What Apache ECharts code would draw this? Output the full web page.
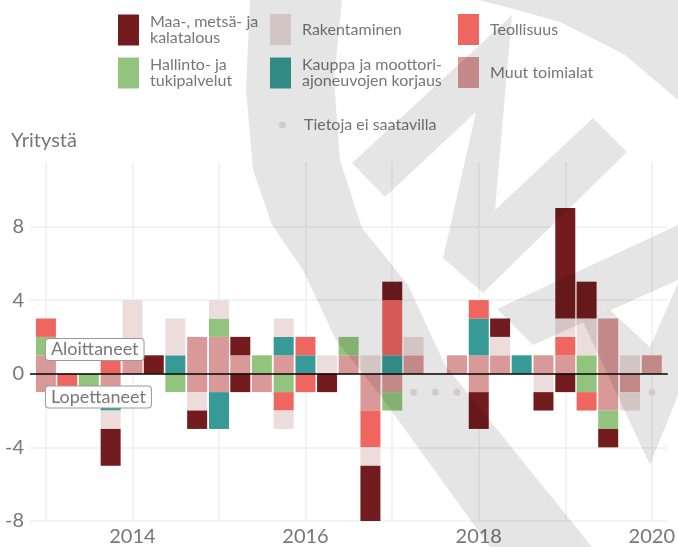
<!DOCTYPE html>
<html>
<head>
<meta charset="utf-8">
<title>Aloittaneet ja lopettaneet yritykset</title>
<script src="https://cdn.jsdelivr.net/npm/echarts@6/dist/echarts.min.js"></script>
<style>
  html, body { margin: 0; padding: 0; background: #fff; }
  #main { width: 678px; height: 547px; }
</style>
</head>
<body>
<div id="main"></div>
<script>
// neljännekset 2013Q1 - 2020Q1
var quarters = ['2013Q1','2013Q2','2013Q3','2013Q4','2014Q1','2014Q2','2014Q3','2014Q4',
                '2015Q1','2015Q2','2015Q3','2015Q4','2016Q1','2016Q2','2016Q3','2016Q4',
                '2017Q1','2017Q2','2017Q3','2017Q4','2018Q1','2018Q2','2018Q3','2018Q4',
                '2019Q1','2019Q2','2019Q3','2019Q4','2020Q1'];

// aloittaneet (positiivinen puoli)
var muutAlo   = [1,0,0,0,1,0,0,2,2,1,0,1,0,0,1,0,0,1,0,1,1,1,0,1,1,0,3,0,1];
var kauppaAlo = [0,0,0,0,0,0,1,0,0,0,0,1,1,0,0,0,1,0,0,0,2,0,1,0,0,0,0,0,0];
var hallAlo   = [1,0,0,0,0,0,0,0,1,0,1,0,0,0,1,0,0,0,0,0,0,0,0,0,0,1,0,0,0];
var teolAlo   = [1,0,0,1,0,0,0,0,0,0,0,0,1,0,0,0,3,0,0,0,1,0,0,0,1,0,0,0,0];
var rakAlo    = [0,0,0,0,3,0,2,0,1,0,0,1,0,1,0,1,0,1,0,0,0,1,0,0,1,2,0,1,0];
var maaAlo    = [0,0,0,0,0,1,0,0,0,1,0,0,0,0,0,0,1,0,0,0,0,1,0,0,6,2,0,0,0];

// lopettaneet (null = tietoja ei saatavilla)
var n = null;
var muutLop   = [1,0,0,1,0,0,0,1,1,0,1,0,0,0,0,2,1,n,n,n,1,0,0,0,0,0,2,1,n];
var kauppaLop = [0,0,0,1,0,0,0,0,2,0,0,0,0,0,0,0,0,n,n,n,0,0,0,0,0,0,0,0,n];
var hallLop   = [0,0,1,0,0,0,1,0,0,0,0,1,0,0,0,0,1,n,n,n,0,0,0,0,0,1,1,0,n];
var teolLop   = [0,1,0,0,0,0,0,0,0,0,0,1,1,0,0,2,0,n,n,n,0,0,0,0,0,1,0,0,n];
var rakLop    = [0,0,0,1,0,0,0,1,0,0,0,1,0,0,0,1,0,n,n,n,0,0,0,1,0,0,0,1,n];
var maaLop    = [0,0,0,2,0,0,0,1,0,1,0,0,0,1,0,3,0,n,n,n,2,0,0,1,1,0,1,0,n];

var yTicks = [-8, -4, 0, 4, 8];
var years = [2013, 2014, 2015, 2016, 2017, 2018, 2019, 2020];

var sectors = [
  { name: 'Muut toimialat', label: 'Muut toimialat', color: '#da9999', alo: muutAlo, lop: muutLop },
  { name: 'Kauppa ja moottoriajoneuvojen korjaus', label: 'Kauppa ja moottori-\najoneuvojen korjaus', color: '#389a96', alo: kauppaAlo, lop: kauppaLop },
  { name: 'Hallinto- ja tukipalvelut', label: 'Hallinto- ja\ntukipalvelut', color: '#93c47d', alo: hallAlo, lop: hallLop },
  { name: 'Teollisuus', label: 'Teollisuus', color: '#ef6661', alo: teolAlo, lop: teolLop },
  { name: 'Rakentaminen', label: 'Rakentaminen', color: '#eddcdc', alo: rakAlo, lop: rakLop },
  { name: 'Maa-, metsä- ja kalatalous', label: 'Maa-, metsä- ja\nkalatalous', color: '#721c1f', alo: maaAlo, lop: maaLop }
];
var missingName = 'Tietoja ei saatavilla';

var DAY = 864e5;
function qt(q) {
  return Date.UTC(Number(q.substr(0, 4)), (Number(q.substr(5, 1)) - 1) * 3, 1);
}
function yt(y) { return Date.UTC(y, 0, 1); }

var fontFam = 'Lato, "Open Sans", sans-serif';
var grayText = '#777';
var barW = 20;
var plotW = 678 - 30 - 7;

var series = [];

// apusarja ruudukolle
series.push({
  type: 'line', name: 'grid', data: [], z: 1, silent: true,
  markLine: {
    z: 1, silent: true, symbol: ['none', 'none'], label: { show: false },
    lineStyle: { color: '#efefef', width: 1.5, type: 'solid' },
    emphasis: { disabled: true },
    data: years.map(function (y) { return { xAxis: yt(y) }; })
      .concat(yTicks.filter(function (v) { return v !== 0; }).map(function (v) { return { yAxis: v }; }))
  }
});

sectors.forEach(function (s) {
  var d = [];
  quarters.forEach(function (q, i) {
    var x = qt(q);
    d.push([x, s.alo[i] || 0]);
    d.push([x, -(s.lop[i] || 0)]);
  });
  series.push({
    type: 'bar', name: s.name, stack: 'yht', barWidth: barW, z: 2,
    itemStyle: { color: s.color },
    emphasis: { disabled: true },
    data: d
  });
});

var dots = [];
quarters.forEach(function (q, i) {
  if (muutLop[i] === null) dots.push([qt(q), -1]);
});
series.push({
  type: 'scatter', name: missingName, data: dots, symbolSize: 7, z: 3,
  itemStyle: { color: '#ebd8da' }, emphasis: { disabled: true }
});

// nollaviiva ja selitteet
series.push({
  type: 'line', name: 'zero', data: [], z: 10, silent: true,
  markLine: {
    z: 10, silent: true, symbol: ['none', 'none'], label: { show: false },
    lineStyle: { color: '#000', width: 1.6, type: 'solid' },
    emphasis: { disabled: true },
    data: [{ yAxis: 0 }]
  },
  markPoint: {
    z: 11, silent: true, symbol: 'rect', symbolSize: 0,
    label: {
      show: true, position: 'right', distance: 0, formatter: '{b}',
      fontFamily: fontFam, fontSize: 18, color: grayText,
      backgroundColor: '#fff', borderColor: '#999', borderWidth: 1, borderRadius: 3,
      padding: [2, 5, 1, 5]
    },
    data: [
      { name: 'Aloittaneet', coord: [yt(2013), 1.32] },
      { name: 'Lopettaneet', coord: [yt(2013), -1.27] }
    ]
  }
});

// selitteet: 3 saraketta
var legendPos = {
  'Maa-, metsä- ja kalatalous': [118, 14],
  'Rakentaminen': [270, 14],
  'Teollisuus': [458, 14],
  'Hallinto- ja tukipalvelut': [118, 57],
  'Kauppa ja moottoriajoneuvojen korjaus': [270, 57],
  'Muut toimialat': [458, 57]
};
var legends = sectors.map(function (s) {
  return {
    data: [s.name], left: legendPos[s.name][0], top: legendPos[s.name][1], padding: 0,
    icon: 'rect', itemWidth: 21, itemHeight: 31, selectedMode: false,
    formatter: function () { return s.label; },
    textStyle: { fontFamily: fontFam, fontSize: 16, lineHeight: 16, color: grayText, padding: [0, 0, 0, 6] }
  };
});
legends.push({
  data: [missingName], left: 279, top: 117, padding: 0,
  icon: 'circle', itemWidth: 7, itemHeight: 7, selectedMode: false,
  textStyle: { fontFamily: fontFam, fontSize: 16, lineHeight: 16, color: grayText, padding: [0, 0, 0, 13] }
});

// vesileima
var wm = 'rgba(0,0,0,0.1)';
var watermark = [
  [[250,0],[246,90],[253,170],[272,225],[303,270],[336,340],[380,395],[490,547],[592,547],[445,365],[408,285],[362,228],[340,160],[334,80],[342,0]],
  [[352,163],[512,15],[495,210],[593,118],[627,152],[483,293],[443,258],[476,112],[385,197]],
  [[497,309],[678,225],[678,280],[533,345]],
  [[583,322],[610,310],[650,347],[678,283],[678,395],[650,465]],
  [[478,0],[678,0],[678,100],[625,55],[560,22],[510,8]]
].map(function (pts) {
  return { type: 'polygon', silent: true, z: 100, shape: { points: pts }, style: { fill: wm } };
});

// ECharts levittää aika-akselia pylväiden leveyden verran, joten raja-arvoja kavennetaan vastaavasti
var xMid = (yt(2013) + yt(2020)) / 2;
var xHalf = (yt(2020) - yt(2013)) / 2 + 0.184 * 365.25 * DAY;
xHalf = xHalf * (1 - barW / plotW);
var xMin = xMid - xHalf;
var xMax = xMid + xHalf;

var chart = echarts.init(document.getElementById('main'), null, { renderer: 'canvas' });
chart.setOption({
  animation: false,
  useUTC: true,
  backgroundColor: '#fff',
  textStyle: { fontFamily: fontFam },
  title: {
    text: 'Yritystä', left: 11, top: 131, padding: 0,
    textStyle: { fontFamily: fontFam, fontSize: 20, fontWeight: 'normal', color: grayText }
  },
  legend: legends,
  grid: { left: 30, right: 7, top: 162, bottom: 26, containLabel: false },
  xAxis: {
    type: 'time', min: xMin, max: xMax,
    minInterval: 365 * DAY, maxInterval: 366 * DAY,
    axisLine: { show: false }, axisTick: { show: false }, splitLine: { show: false },
    axisLabel: {
      fontFamily: fontFam, fontSize: 20, color: grayText, margin: 6,
      showMinLabel: false, showMaxLabel: false, hideOverlap: false,
      formatter: function (v) {
        var d = new Date(v);
        var y = d.getUTCFullYear();
        return (d.getUTCMonth() === 0 && d.getUTCDate() === 1 && y % 2 === 0) ? String(y) : '';
      }
    }
  },
  yAxis: {
    type: 'value', min: -8, max: 11.5,
    axisLine: { show: false }, axisTick: { show: false }, splitLine: { show: false },
    axisLabel: {
      customValues: yTicks, fontFamily: fontFam, fontSize: 20, color: grayText, margin: 6,
      formatter: function (v) { return String(v); }
    }
  },
  graphic: { elements: watermark },
  series: series
});
</script>
</body>
</html>
